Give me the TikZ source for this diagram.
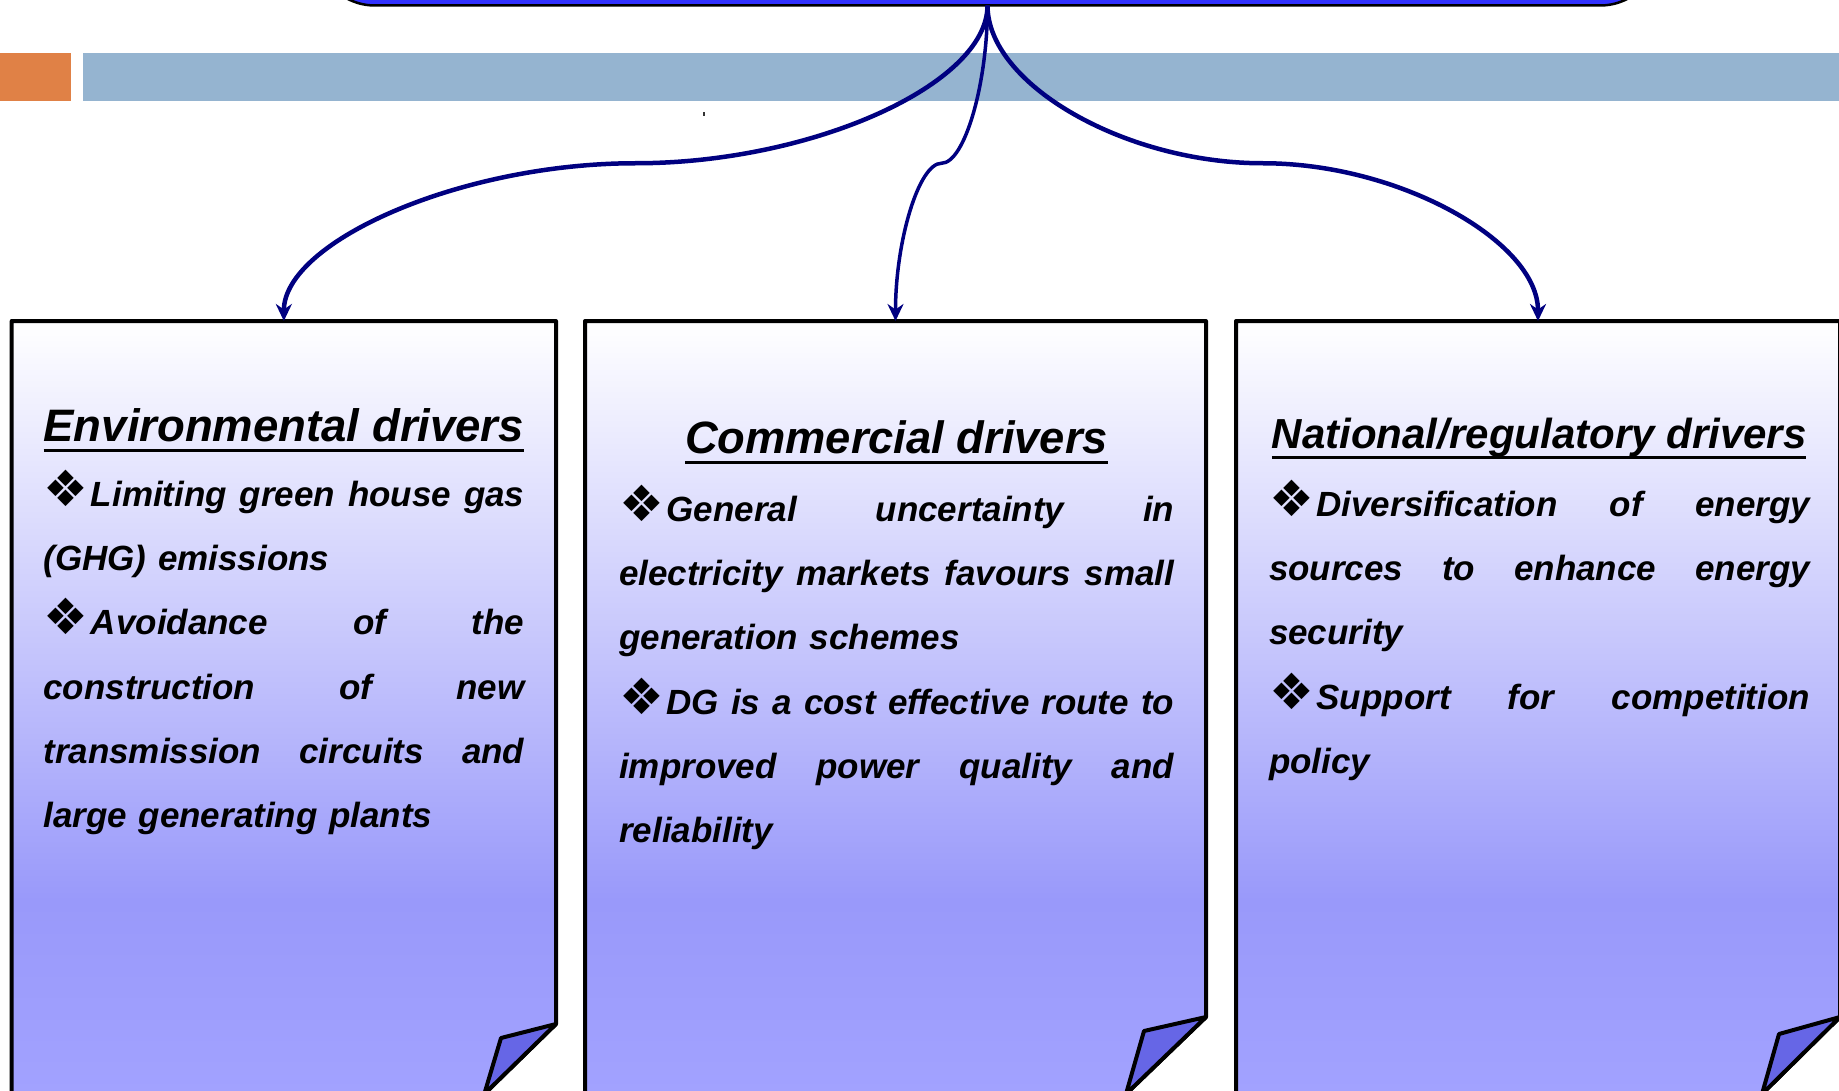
\documentclass[tikz,border=0pt]{standalone}
\usepackage{fontspec}
\setmainfont{Liberation Sans}
\newfontfamily\dejavu{DejaVu Sans}
\usetikzlibrary{arrows.meta,calc}
\definecolor{navy}{RGB}{0,0,128}
\definecolor{barblue}{RGB}{149,180,208}
\definecolor{barorange}{RGB}{224,129,70}
\definecolor{topblue}{RGB}{50,50,255}
\definecolor{pgmid}{RGB}{153,153,250}
\definecolor{pgbot}{RGB}{162,162,255}
\definecolor{flapc}{RGB}{102,102,230}
\pgfdeclareverticalshading{pageshade}{100bp}{color(0bp)=(pgbot); color(25bp)=(pgbot); color(37.5bp)=(pgmid); color(75bp)=(white); color(100bp)=(white)}
\newcommand{\bul}{\makebox[47.5pt][l]{\hspace{0pt}{\dejavu\upshape\mdseries\fontsize{50}{50}\selectfont ❖}}}
\newcommand{\jl}[1]{\makebox[\linewidth][s]{\spaceskip=\fontdimen2\font plus 1fil\relax #1}}
\newcommand{\curvconn}[3]{%
  \draw[#1] let \p1=(#2), \p2=(#3) in (\p1)
    .. controls (\x1,{(3*\y1+\y2)/4}) and ({(3*\x1+\x2)/4},{(\y1+\y2)/2})
    .. ({(\x1+\x2)/2},{(\y1+\y2)/2})
    .. controls ({(\x1+3*\x2)/4},{(\y1+\y2)/2}) and (\x2,{(\y1+3*\y2)/4})
    .. (\p2);}
\begin{document}
\begin{tikzpicture}[x=1pt,y=-1pt,
  conn/.style={draw=navy, line width=4.5pt, -{Stealth[length=17pt,width=16pt]}},
  ttl/.style={inner sep=0pt, outer sep=0pt, anchor=base},
  body/.style={inner sep=0pt, outer sep=0pt, anchor=base west, align=left,
    font=\fontsize{35}{64.1}\selectfont\bfseries\itshape},
  area/.style={inner sep=0pt, outer sep=0pt, anchor=north, minimum height=773pt},
  uline/.style={line width=3pt},
  page/.style={shading=pageshade, draw=black, line width=4pt, line join=round},
  flap/.style={fill=flapc, draw=black, line width=4pt, line join=round},
  topbox/.style={draw=black, fill=topblue, line width=2.5pt, rounded corners=60pt,
    inner sep=0pt, outer sep=0pt, minimum width=1345pt, minimum height=120pt, anchor=south}]
\useasboundingbox (0,0) rectangle (1839,1091);
\fill[white] (0,0) rectangle (1839,1091);
% bars
\fill[barorange] (0,53) rectangle (71,101);
\fill[barblue] (83,53) rectangle (1839,101);
\fill[black!80] (703.2,112) rectangle (704.8,116);
% top box
\node[topbox] (top) at (987.5,5.5) {};
% page areas (named)
\node[area, minimum width=544.3pt] (env) at (283.85,321) {};
\node[area, minimum width=621pt] (comm) at (895.5,321) {};
\node[area, minimum width=604pt] (nat) at (1538,321) {};
% pages
\shadedraw[page] (11.7,321) -- (556,321) -- (556,1024) -- (484.3,1094) -- (11.7,1094) -- cycle;
\filldraw[flap] (556,1024) -- (501,1038) -- (484.3,1094) -- cycle;
\shadedraw[page] (585,321) -- (1206,321) -- (1206,1017) -- (1126,1094) -- (585,1094) -- cycle;
\filldraw[flap] (1206,1017) -- (1144,1031) -- (1126,1094) -- cycle;
\shadedraw[page] (1236,321) -- (1840,321) -- (1840,1017) -- (1762,1094) -- (1236,1094) -- cycle;
\filldraw[flap] (1840,1017) -- (1779,1034) -- (1762,1094) -- cycle;
% connectors
\curvconn{conn}{top.south}{env.north}
\curvconn{conn, line width=3.5pt}{top.south}{comm.north}
\curvconn{conn}{top.south}{nat.north}
% titles
\node[ttl, font=\fontsize{45.5}{50}\selectfont\bfseries\itshape] (envt) at (283.8,441.7) {Environmental drivers};
\node[ttl, font=\fontsize{45.3}{50}\selectfont\bfseries\itshape] (commt) at (896.5,453.3) {Commercial drivers};
\node[ttl, font=\fontsize{42}{50}\selectfont\bfseries\itshape] (natt) at (1539.2,448.3) {National/regulatory drivers};
\draw[uline] ($(envt.base west)+(0,8.5)$) -- ($(envt.base east)+(0,8.5)$);
\draw[uline] ($(commt.base west)+(0,9.5)$) -- ($(commt.base east)+(0,9.5)$);
\draw[uline] ($(natt.base west)+(0,8.7)$) -- ($(natt.base east)+(0,8.7)$);
% bodies
\node[body, text width=481pt] (envb) at (43.4,506.7) {%
\jl{\bul Limiting green house gas}\\
(GHG) emissions\par
\jl{\bul Avoidance of the}\\
\jl{construction of new}\\
\jl{transmission circuits and}\\
large generating plants};
\node[body, text width=555pt] (commb) at (619.2,521.7) {%
\jl{\bul General uncertainty in}\\
\jl{electricity markets favours small}\\
generation schemes\par
\jl{\bul DG is a cost effective route to}\\
\jl{improved power quality and}\\
reliability};
\node[body, text width=541pt] (natb) at (1269,516.7) {%
\jl{\bul Diversification of energy}\\
\jl{sources to enhance energy}\\
security\par
\jl{\bul Support for competition}\\
policy};
\end{tikzpicture}
\end{document}
